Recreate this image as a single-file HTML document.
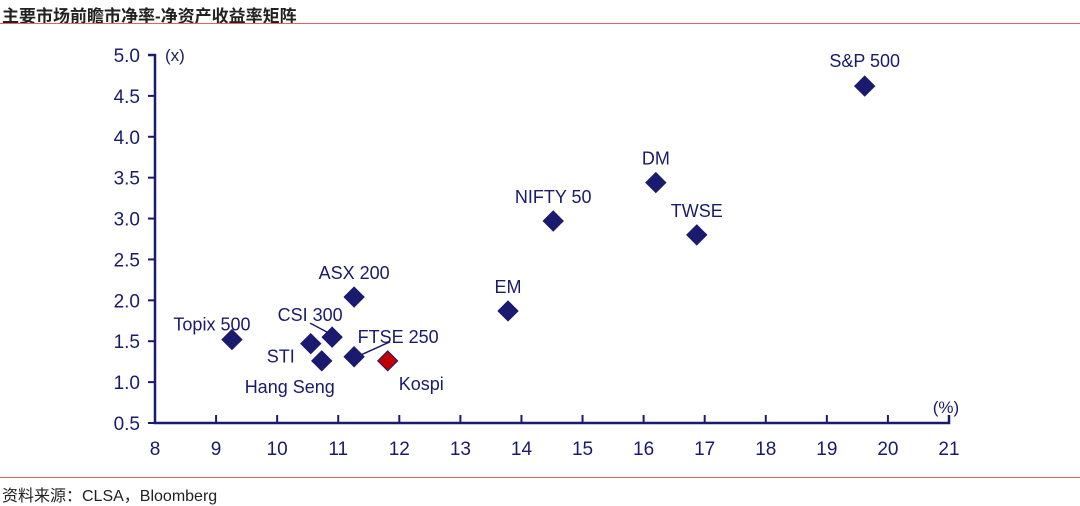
<!DOCTYPE html>
<html><head><meta charset="utf-8"><style>
body{margin:0;background:#fff;width:1080px;height:503px;overflow:hidden;font-family:"Liberation Sans","Noto Sans CJK SC",sans-serif}
#title{position:absolute;left:2px;top:2px;font-size:17px;color:#222;font-weight:bold}
#tl{position:absolute;left:0;top:23px;width:1080px;height:1px;background:#e06464;z-index:2}
#bl{position:absolute;left:0;top:477px;width:1080px;height:1px;background:#e06464;z-index:2}
#src{position:absolute;left:2px;top:482px;font-size:16px;color:#222}
</style></head><body>
<svg id="chart" width="1080" height="503" style="position:absolute;left:0;top:0"></svg>
<div id="title">主要市场前瞻市净率-净资产收益率矩阵</div>
<div id="tl"></div>
<div id="bl"></div>
<div id="src">资料来源：CLSA，Bloomberg</div>
<script>
const names=["S&P 500","DM","TWSE","NIFTY 50","EM","ASX 200","Topix 500","CSI 300","STI","Hang Seng","FTSE 250","Kospi"];
const roe=[19.62,16.2,16.87,14.52,13.78,11.26,9.26,10.9,10.55,10.73,11.26,11.81];
const pb=[4.62,3.44,2.8,2.97,1.87,2.04,1.52,1.55,1.47,1.26,1.31,1.26];
const xTicks=[8,9,10,11,12,13,14,15,16,17,18,19,20,21];
const yTicks=[0.5,1.0,1.5,2.0,2.5,3.0,3.5,4.0,4.5,5.0];
const lblOff=[[0,-25,'middle'],[0,-24,'middle'],[0,-24,'middle'],[0,-24,'middle'],[0,-24,'middle'],[0,-24,'middle'],[-20,-15,'middle'],[-22,-22,'middle'],[-16,13,'end'],[-32,26,'middle'],[44,-20,'middle'],[11,23,'start']];
const X=v=>155+(v-8)*(949-155)/13, Y=v=>423-(v-0.5)*(423-55)/4.5;
const svg=document.getElementById('chart'),NS='http://www.w3.org/2000/svg',C='#1a1a6e';
function mk(t,a){const e=document.createElementNS(NS,t);for(const k in a)e.setAttribute(k,a[k]);svg.appendChild(e);return e;}
let e=mk('path',{d:`M148,${Y(5)}H155V423H949V415`,stroke:C,'stroke-width':2.5,fill:'none'});


yTicks.forEach(v=>{const t=mk('text',{x:140,y:Y(v)+7,'text-anchor':'end','font-size':19,fill:C});t.textContent=v.toFixed(1);


mk('line',{x1:148,x2:155,y1:Y(v),y2:Y(v),stroke:C,'stroke-width':2});});
xTicks.forEach(v=>{mk('line',{x1:X(v),x2:X(v),y1:423,y2:415,stroke:C,'stroke-width':2});
const t=mk('text',{x:X(v),y:455,'text-anchor':'middle','font-size':19,fill:C});t.textContent=v;

});
let u=mk('text',{x:165,y:61,'font-size':17,fill:C});u.textContent='(x)';


u=mk('text',{x:946,y:413,'text-anchor':'middle','font-size':17,fill:C});u.textContent='(%)';


mk('line',{x1:X(10.9)-5,y1:Y(1.55)-5,x2:X(10.9)-22,y2:Y(1.55)-14,stroke:C,'stroke-width':1.5});
mk('line',{x1:X(11.26)+7,y1:Y(1.31)-2,x2:X(11.26)+36,y2:Y(1.31)-15,stroke:C,'stroke-width':1.5});
names.forEach((n,i)=>{const cx=X(roe[i]),cy=Y(pb[i]);
const p=mk('path',{d:`M${cx},${cy-10}L${cx+10},${cy}L${cx},${cy+10}L${cx-10},${cy}Z`,fill:n=='Kospi'?'#c00000':C,stroke:C,'stroke-width':1});


const o=lblOff[i];const t=mk('text',{x:cx+o[0],y:cy+o[1]+6,'text-anchor':o[2],'font-size':18,fill:C});t.textContent=n;

});
</script>
</body></html>
